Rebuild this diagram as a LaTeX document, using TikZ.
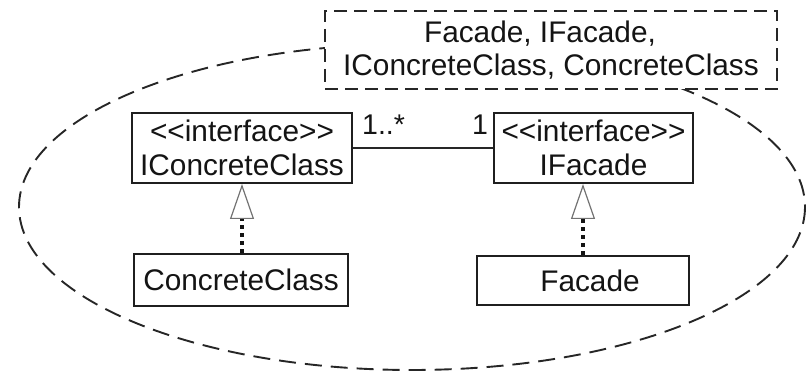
\documentclass[tikz,border=0pt]{standalone}
\usepackage{fontspec}
\setmainfont{Liberation Sans}[Ligatures=TeXOff]
\usetikzlibrary{arrows.meta}
\begin{document}
\begin{tikzpicture}[x=1pt,y=-1pt,
  font=\fontsize{29.8}{33.5}\selectfont,
  every node/.style={text=black!92},
  cls/.style={draw=black!88, line width=2pt, fill=white, align=center, inner sep=0pt},
  realize/.style={line width=3.4pt, dash pattern=on 4pt off 4pt, black!92,
    -{Triangle[open, fill=white, length=35pt, width=24pt, line width=1.2pt, color=black!55]}},
  assoc/.style={line width=2pt, black!85},
  mult/.style={font=\fontsize{28.5}{30}\selectfont, inner sep=0pt, anchor=base west},
  notebox/.style={draw=black!85, line width=2pt, dash pattern=on 13pt off 7pt,
    fill=white, align=center, inner sep=0pt, minimum width=452pt, minimum height=78pt},
]
\useasboundingbox (0,0) rectangle (807,374);

% package boundary
\draw[line width=1.9pt, dash pattern=on 17pt off 9pt, black!85]
  (412,207) ellipse [x radius=393, y radius=163];

% package contents note
\node[notebox] (note) at (551,50)
  {Facade, IFacade,\hspace*{22pt}\\IConcreteClass, ConcreteClass};

% classes and interfaces
\node[cls, minimum width=220pt, minimum height=70pt] (icc) at (242,148)
  {<<interface>>\\IConcreteClass};
\node[cls, minimum width=214pt, minimum height=52pt] (cc) at (241,280)
  {ConcreteClass};
\node[cls, minimum width=199pt, minimum height=70pt] (ifc) at (593.5,148)
  {<<interface>>\\IFacade};
\node[cls, minimum width=212pt, minimum height=49pt] (fac) at (583,280.5)
  {\hspace*{14pt}Facade};

% association with multiplicities
\draw[assoc] (icc.east) -- (ifc.west);
\node[mult] (m1) at (362,135) {1..*};
\node[mult] (m2) at (472,135) {1};

% realizations
\draw[realize] (cc.north -| icc.south) -- (icc.south);
\draw[realize] (fac.north) -- (fac.north |- ifc.south);
\end{tikzpicture}
\end{document}
